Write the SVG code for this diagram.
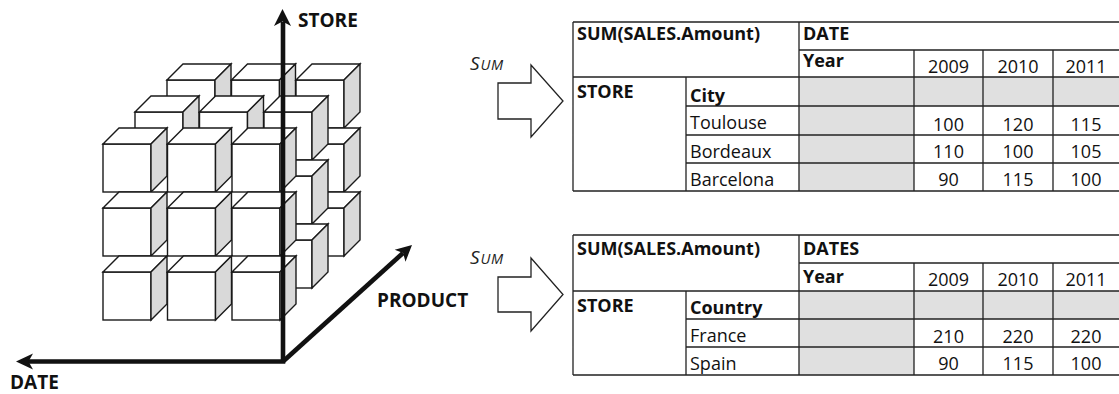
<svg xmlns="http://www.w3.org/2000/svg" xmlns:xlink="http://www.w3.org/1999/xlink" width="1119" height="394" viewBox="0 0 1119 394">
<style>
.cf{fill:#fff;stroke:#1a1a1a;stroke-width:1.4;stroke-linejoin:miter}
.cs{fill:#d9d9d9;stroke:#1a1a1a;stroke-width:1.4}
.axis{fill:none;stroke:#111;stroke-width:4.6}
.ah{fill:#111}
.lbl{font-family:"Open Sans",Lato,sans-serif;font-weight:bold;font-size:19px;fill:#111}
.tl{stroke:#222;stroke-width:1.3;fill:none}
.gray{fill:#e0e0e0}
.tb{font-family:"Open Sans",Lato,sans-serif;font-weight:bold;font-size:18px;fill:#111}
.tr{font-family:"Open Sans",Lato,sans-serif;font-size:18px;fill:#111}
.num{font-family:"Open Sans",Lato,sans-serif;font-size:18px;fill:#111;text-anchor:middle}
.blk{fill:#fff;stroke:#222;stroke-width:1.3}
.sum{font-family:"Open Sans",Lato,sans-serif;font-style:italic;fill:#222;letter-spacing:0.8px}
</style>
<defs>
<g id="cube">
<rect class="cf" x="0" y="0" width="48" height="48"/>
<polygon class="cf" points="0,0 16,-16 64,-16 48,0"/>
<polygon class="cs" points="48,0 64,-16 64,32 48,48"/>
</g>
</defs>
<g id="cube-stack">
<g id="layer-back">
<use xlink:href="#cube" x="167" y="80"/><use xlink:href="#cube" x="231.5" y="80"/><use xlink:href="#cube" x="296" y="80"/>
<use xlink:href="#cube" x="167" y="144"/><use xlink:href="#cube" x="231.5" y="144"/><use xlink:href="#cube" x="296" y="144"/>
<use xlink:href="#cube" x="167" y="208"/><use xlink:href="#cube" x="231.5" y="208"/><use xlink:href="#cube" x="296" y="208"/>
</g>
<g id="layer-middle">
<use xlink:href="#cube" x="135" y="112"/><use xlink:href="#cube" x="199.5" y="112"/><use xlink:href="#cube" x="264" y="112"/>
<use xlink:href="#cube" x="135" y="176"/><use xlink:href="#cube" x="199.5" y="176"/><use xlink:href="#cube" x="264" y="176"/>
<use xlink:href="#cube" x="135" y="240"/><use xlink:href="#cube" x="199.5" y="240"/><use xlink:href="#cube" x="264" y="240"/>
</g>
<g id="layer-front">
<use xlink:href="#cube" x="103" y="144"/><use xlink:href="#cube" x="167.5" y="144"/><use xlink:href="#cube" x="232" y="144"/>
<use xlink:href="#cube" x="103" y="208"/><use xlink:href="#cube" x="167.5" y="208"/><use xlink:href="#cube" x="232" y="208"/>
<use xlink:href="#cube" x="103" y="272"/><use xlink:href="#cube" x="167.5" y="272"/><use xlink:href="#cube" x="232" y="272"/>
</g>
</g>
<g id="axes">
<polyline class="axis" points="28,361.5 283,361.5 283,22"/>
<line class="axis" x1="283" y1="361.5" x2="403" y2="253"/>
<path class="ah" d="M282.5,9 L291,26 L282.5,21.5 L274,26 Z"/>
<path class="ah" d="M16,361.5 L33,353.5 L28.5,361.5 L33,369.5 Z"/>
<path class="ah" d="M412,245 L405.5,261.7 L403.1,253.1 L394.7,249.8 Z"/>
</g>
<g id="axis-labels">
<text class="lbl" x="298" y="27">STORE</text>
<text class="lbl" x="10" y="389" font-size="18.5">DATE</text>
<text class="lbl" x="377" y="307" font-size="18.5">PRODUCT</text>
</g>
<g id="sum-arrow-1">
<polygon class="blk" points="498,83 531,83 531,65 563,101 531,137 531,119 498,119"/>
<text class="sum" x="470" y="70"><tspan font-size="19">S</tspan><tspan font-size="14.5">UM</tspan></text>
</g>
<g id="sum-arrow-2">
<polygon class="blk" points="498,277 531,277 531,258 563,294.5 531,331 531,312 498,312"/>
<text class="sum" x="470" y="264"><tspan font-size="19">S</tspan><tspan font-size="14.5">UM</tspan></text>
</g>
<g id="table-city">
<rect class="gray" x="799" y="77" width="115" height="114"/>
<rect class="gray" x="914" y="77" width="205" height="29"/>
<path class="tl" d="M573,22 H1119 M799,50 H1119 M573,77 H1119 M686,106 H1119 M686,135 H1119 M686,163 H1119 M573,191 H1119 M573,22 V191 M686,77 V191 M799,22 V191 M914,50 V191 M983,50 V191 M1053,50 V191"/>
<text class="tb" x="577" y="40">SUM(SALES.Amount)</text>
<text class="tb" x="803" y="40">DATE</text>
<text class="tb" x="803" y="67">Year</text>
<text class="num" x="948.5" y="73">2009</text>
<text class="num" x="1018" y="73">2010</text>
<text class="num" x="1086" y="73">2011</text>
<text class="tb" x="577" y="98">STORE</text>
<text class="tb" x="690" y="102">City</text>
<text class="tr" x="690" y="129">Toulouse</text>
<text class="tr" x="690" y="158">Bordeaux</text>
<text class="tr" x="690" y="186">Barcelona</text>
<text class="num" x="948.5" y="131">100</text><text class="num" x="1018" y="131">120</text><text class="num" x="1086" y="131">115</text>
<text class="num" x="948.5" y="158">110</text><text class="num" x="1018" y="158">100</text><text class="num" x="1086" y="158">105</text>
<text class="num" x="948.5" y="186">90</text><text class="num" x="1018" y="186">115</text><text class="num" x="1086" y="186">100</text>
</g>
<g id="table-country">
<rect class="gray" x="799" y="291" width="115" height="84"/>
<rect class="gray" x="914" y="291" width="205" height="28"/>
<path class="tl" d="M573,235 H1119 M799,263 H1119 M573,291 H1119 M686,319 H1119 M686,347 H1119 M573,375 H1119 M573,235 V375 M686,291 V375 M799,235 V375 M914,263 V375 M983,263 V375 M1053,263 V375"/>
<text class="tb" x="577" y="255">SUM(SALES.Amount)</text>
<text class="tb" x="803" y="255">DATES</text>
<text class="tb" x="803" y="283">Year</text>
<text class="num" x="948.5" y="286">2009</text>
<text class="num" x="1018" y="286">2010</text>
<text class="num" x="1086" y="286">2011</text>
<text class="tb" x="577" y="312">STORE</text>
<text class="tb" x="690" y="314">Country</text>
<text class="tr" x="690" y="342">France</text>
<text class="tr" x="690" y="370">Spain</text>
<text class="num" x="948.5" y="343">210</text><text class="num" x="1018" y="343">220</text><text class="num" x="1086" y="343">220</text>
<text class="num" x="948.5" y="370">90</text><text class="num" x="1018" y="370">115</text><text class="num" x="1086" y="370">100</text>
</g>
</svg>
